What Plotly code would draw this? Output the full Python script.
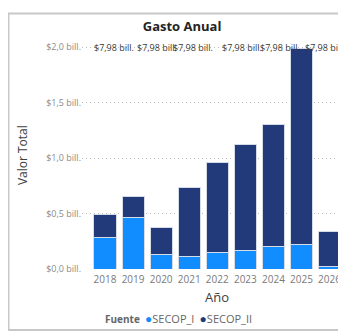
import plotly.graph_objects as go

# Datos (billones de pesos)
anios = ["2018", "2019", "2020", "2021", "2022", "2023", "2024", "2025", "2026"]
secop_i = [0.28, 0.46, 0.13, 0.11, 0.145, 0.17, 0.20, 0.225, 0.02]
secop_ii = [0.215, 0.19, 0.24, 0.62, 0.81, 0.955, 1.105, 1.765, 0.32]

ticks_y = [0, 0.5, 1.0, 1.5, 2.0]
ticks_y_txt = ["$0,0 bill.", "$0,5 bill.", "$1,0 bill.", "$1,5 bill.", "$2,0 bill."]

# etiquetas de total que Power BI deja visibles arriba
etiq_anios = ["2018", "2020", "2021", "2023", "2024", "2026"]
etiq_txt = ["$7,98 bill."] * 6
etiq_shift = [9, -4, 4, -3, 7, -5]

AZUL = "#118DFF"
NAVY = "#22397A"
fuente = "Open Sans, Noto Sans, sans-serif"

fig = go.Figure()
fig.add_trace(go.Bar(x=anios, y=secop_i, name="SECOP_I",
                     marker=dict(color=AZUL, line=dict(color="#d6dbe8", width=1))))
fig.add_trace(go.Bar(x=anios, y=secop_ii, name="SECOP_II",
                     marker=dict(color=NAVY, line=dict(color="#d6dbe8", width=1))))

# en eje de categorías la anotación va por índice
for a, t, s in zip(etiq_anios, etiq_txt, etiq_shift):
    fig.add_annotation(x=anios.index(a), y=2.0, text=t, showarrow=False, xshift=s, yanchor="middle",
                       font=dict(size=9, color="#3a3a3a", family=fuente))

# títulos de ejes
fig.add_annotation(xref="paper", yref="paper", x=-0.228, y=0.502, text="Valor Total", textangle=-90,
                   xanchor="center", yanchor="middle",
                   showarrow=False, font=dict(size=12, color="#404040", family=fuente))
fig.add_annotation(xref="paper", yref="paper", x=0.513, y=-0.123, text="Año",
                   xanchor="center", yanchor="middle",
                   showarrow=False, font=dict(size=13, color="#404040", family=fuente))

# leyenda estilo Power BI
leyenda = ("<b>Fuente</b>  <span style='color:%s;font-size:12px'>●</span><span style='font-size:11px'>SECOP_I</span>  "
           "<span style='color:%s;font-size:12px'>●</span><span style='font-size:11px'>SECOP_II</span>") % (AZUL, NAVY)
fig.add_annotation(xref="paper", yref="paper", x=0.08, y=-0.216, xanchor="left", yanchor="middle",
                   text=leyenda, showarrow=False, font=dict(size=10, color="#666666", family=fuente))

# marco del visual
fig.add_shape(type="rect", xref="paper", yref="paper", x0=-0.2795, x1=1.2, y0=-0.269, y1=1.1256,
              line=dict(color="#c8c8c8", width=2), layer="below")

# la página tiene 8 px de margen en el body: figura de 338x326 para que quepa sin scroll
fig.update_layout(
    width=338, height=326,
    margin=dict(l=74, r=1, t=34, b=65, autoexpand=False),
    barmode="stack", bargap=0.21, showlegend=False,
    paper_bgcolor="white", plot_bgcolor="white",
    title=dict(text="<b>Gasto Anual</b>", xref="container", yref="container", x=0.515, y=0.942,
               xanchor="center", yanchor="middle",
               font=dict(size=13, color="#252423", family=fuente)),
    xaxis=dict(type="category", range=[-0.82, 8.55], showgrid=False, zeroline=False, showline=False,
               automargin=False, ticklabelstandoff=3, ticklabeloverflow="allow",
               tickfont=dict(size=10, color="#7a7a7a", family=fuente), ticks=""),
    yaxis=dict(range=[0, 2.045], tickvals=ticks_y, ticktext=ticks_y_txt, showgrid=True,
               gridcolor="#bdbdbd", griddash="1px,3px", gridwidth=1, zeroline=False, showline=False,
               automargin=False, tickfont=dict(size=9, color="#8a8a8a", family=fuente), ticks=""),
)

fig.write_html("out.html")
